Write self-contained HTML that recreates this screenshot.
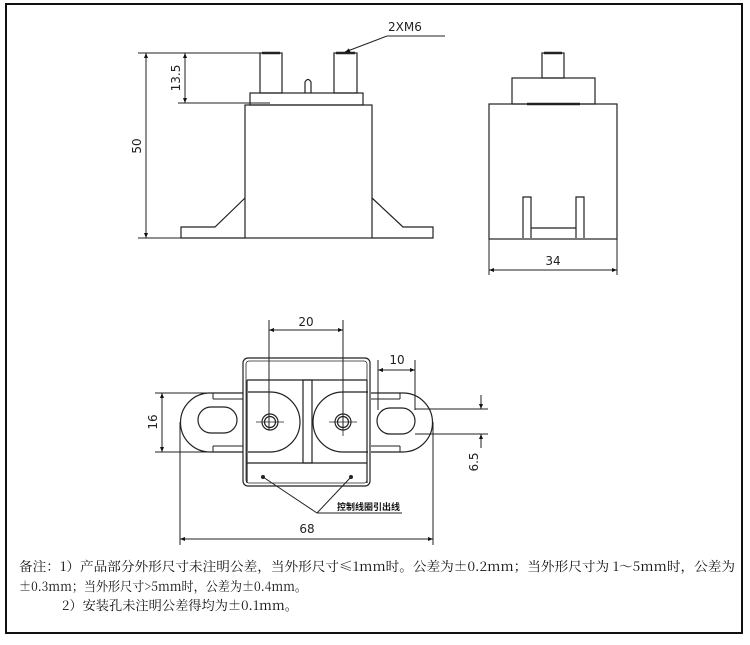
<!DOCTYPE html>
<html><head><meta charset="utf-8"><style>
html,body{margin:0;padding:0;background:#fff;width:750px;height:645px;overflow:hidden}
svg{display:block}
.n{font-family:"DejaVu Sans","Liberation Sans",sans-serif;font-size:12px;fill:#222}
.c{font-family:"Noto Serif CJK SC","Liberation Serif",serif;font-size:13px;fill:#111}
</style></head><body>
<svg width="750" height="645" viewBox="0 0 750 645" xmlns="http://www.w3.org/2000/svg">
<defs>
<marker id="a" viewBox="0 0 10 10" refX="10" refY="5" markerWidth="7" markerHeight="5" orient="auto-start-reverse" markerUnits="userSpaceOnUse"><path d="M0,1 L10,5 L0,9 z" fill="#111"/></marker>
</defs>
<rect x="6" y="4" width="736" height="629" fill="none" stroke="#111" stroke-width="2"/>
<g stroke="#222" stroke-width="1.2" fill="none">
<rect x="260" y="53" width="22" height="40"/>
<rect x="334" y="53" width="23" height="40"/>
<path d="M262,53 H280 M336,53 H355" stroke-width="2.5"/>
<path d="M305,93 V82 Q308,77 311,82 V93"/>
<rect x="250" y="93" width="113" height="12"/>
<rect x="245" y="105" width="127" height="133"/>
<path d="M245,198 L215,227 H181 V238 H245"/>
<path d="M372,198 L403,227 H433 V238 H372"/>
<path d="M138,53 H282" stroke-width="1"/>
<path d="M138,238 H270" stroke-width="1"/>
<path d="M178,103 H270" stroke-width="1"/>
<path d="M146,53 V238" stroke-width="1" marker-start="url(#a)" marker-end="url(#a)"/>
<path d="M185,53 V103" stroke-width="1" marker-start="url(#a)" marker-end="url(#a)"/>
<path d="M387,36 L345,52" stroke-width="1" marker-end="url(#a)"/>
<path d="M387,36 H445" stroke-width="1"/>
<rect x="542" y="53" width="22" height="25"/>
<path d="M544,53 H562" stroke-width="2.5"/>
<rect x="512" y="78" width="83" height="26"/>
<rect x="489" y="104" width="128" height="135"/>
<path d="M527,104 H580" stroke-width="2.5"/>
<path d="M523,238 V197 H531 V238 M576,238 V197 H584 V238 M531,228 H576"/>
<path d="M489,239 V275 M617,239 V275" stroke-width="1"/>
<path d="M489,270 H617" stroke-width="1" marker-start="url(#a)" marker-end="url(#a)"/>
<rect x="243" y="358" width="127" height="128" rx="5"/>
<rect x="246" y="361" width="121" height="122" rx="3" stroke-width="0.8"/>
<path d="M247,380 H367 M247,463 H367 M247,380 V483 M367,380 V483"/>
<rect x="303" y="380" width="9" height="83"/>
<path d="M248,392 H270 A30,30 0 0 1 270,452 H248"/>
<path d="M368,392 H343 A30,30 0 0 0 343,452 H368"/>
<circle cx="270" cy="422" r="8"/><circle cx="270" cy="422" r="5.5"/>
<circle cx="343" cy="422" r="8"/><circle cx="343" cy="422" r="5.5"/>
<path d="M256,422 H284 M329,422 H357 M343,408 V436" stroke-width="0.8"/>
<path d="M243,393 H210 A29.5,29.5 0 0 0 210,452 H243"/>
<path d="M213,399 H243 M213,446 H243 M213,393 V399 M213,446 V452" stroke-width="1"/>
<rect x="198" y="407" width="39" height="26" rx="13"/>
<path d="M371,393 H403 A29.5,29.5 0 0 1 403,452 H371"/>
<path d="M371,399 H400 M371,446 H400 M400,393 V399 M400,446 V452" stroke-width="1"/>
<rect x="377" y="408" width="38" height="26" rx="13"/>
<path d="M269,320 V430 M343,320 V430" stroke-width="1"/>
<path d="M269,330 H343" stroke-width="1" marker-start="url(#a)" marker-end="url(#a)"/>
<path d="M378,360 V410 M415,360 V410" stroke-width="1"/>
<path d="M378,370 H415" stroke-width="1" marker-start="url(#a)" marker-end="url(#a)"/>
<path d="M415,409 H488 M415,434 H488" stroke-width="1"/>
<path d="M481,395 V409" stroke-width="1" marker-end="url(#a)"/>
<path d="M481,448 V434" stroke-width="1" marker-end="url(#a)"/>
<path d="M155,393 H215 M155,452 H240" stroke-width="1"/>
<path d="M162,393 V452" stroke-width="1" marker-start="url(#a)" marker-end="url(#a)"/>
<path d="M180,422 V545 M433,422 V545" stroke-width="1"/>
<path d="M180,539 H433" stroke-width="1" marker-start="url(#a)" marker-end="url(#a)"/>
<path d="M263,477 L317,513 L351,477 M317,513 H402" stroke-width="1"/>
</g>
<circle cx="263" cy="477" r="2" fill="#222"/><circle cx="351" cy="477" r="2" fill="#222"/>
<text class="n" x="388" y="31">2XM6</text>
<text class="n" transform="translate(180,78) rotate(-90)" text-anchor="middle">13.5</text>
<text class="n" transform="translate(141,146) rotate(-90)" text-anchor="middle">50</text>
<text class="n" x="553" y="265" text-anchor="middle">34</text>
<text class="n" x="306" y="326" text-anchor="middle">20</text>
<text class="n" x="397" y="364" text-anchor="middle">10</text>
<text class="n" transform="translate(157,422) rotate(-90)" text-anchor="middle">16</text>
<text class="n" transform="translate(478,462) rotate(-90)" text-anchor="middle">6.5</text>
<text class="n" x="307" y="533" text-anchor="middle">68</text>
<text x="337" y="510" style="font-family:'Noto Sans CJK SC',sans-serif;font-size:9px;font-weight:bold;fill:#111">控制线圈引出线</text>
<text class="c" x="19" y="571" textLength="716" lengthAdjust="spacingAndGlyphs">备注：1）产品部分外形尺寸未注明公差，当外形尺寸≤1mm时。公差为±0.2mm；当外形尺寸为 1～5mm时，公差为</text>
<text class="c" x="19" y="591" textLength="288" lengthAdjust="spacingAndGlyphs">±0.3mm；当外形尺寸&gt;5mm时，公差为±0.4mm。</text>
<text class="c" x="62" y="610" textLength="236" lengthAdjust="spacingAndGlyphs">2）安装孔未注明公差得均为±0.1mm。</text>
</svg>
</body></html>
